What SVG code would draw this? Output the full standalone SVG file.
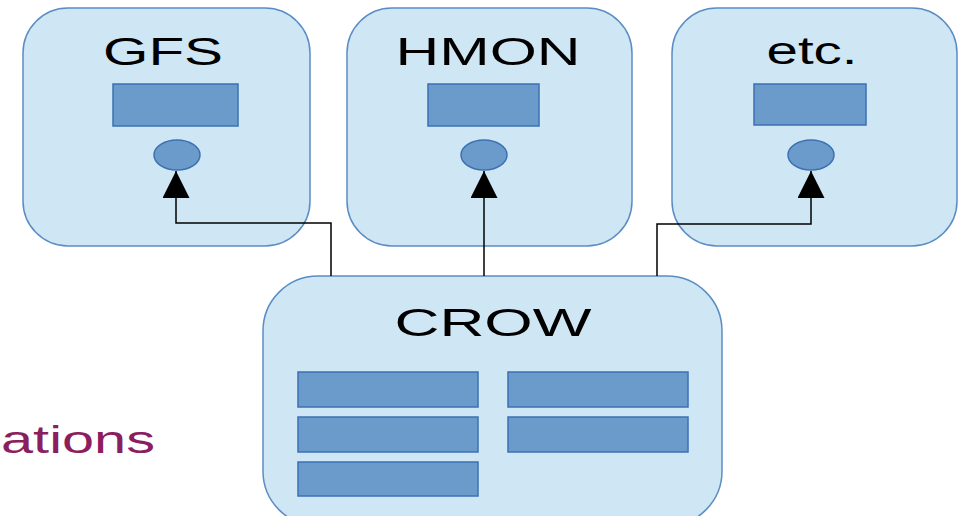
<svg xmlns="http://www.w3.org/2000/svg" width="969" height="516" viewBox="0 0 969 516">
<style>
.box{fill:#cfe6f4;stroke:#5b8dc4;stroke-width:1.5}
.inner{fill:#6b9bcb;stroke:#3c70b2;stroke-width:1.5}
.lbl{font-family:"Liberation Sans",Arial,sans-serif;font-size:39px;fill:#000;text-anchor:middle}
.conn{fill:none;stroke:#000;stroke-width:1.5}
</style>
<defs>
<marker id="arr" markerUnits="userSpaceOnUse" markerWidth="28" markerHeight="28" viewBox="0 0 28 28" refX="27" refY="13.5" orient="auto">
<path d="M0,0 L27,13.5 L0,27 Z" fill="#000"/>
</marker>
</defs>
<rect width="969" height="516" fill="#fff"/>
<text x="1" y="453" font-family="'Liberation Sans',Arial,sans-serif" font-size="38" fill="#8c1d5f" textLength="154" lengthAdjust="spacingAndGlyphs">ations</text>
<g id="gfs">
<rect class="box" x="23" y="8" width="287" height="238" rx="45"/>
<text class="lbl" x="163" y="65" textLength="120" lengthAdjust="spacingAndGlyphs">GFS</text>
<rect class="inner" x="113" y="84" width="125" height="42"/>
<ellipse class="inner" cx="177" cy="155" rx="23" ry="15"/>
</g>
<g id="hmon">
<rect class="box" x="347" y="8" width="285" height="238" rx="45"/>
<text class="lbl" x="488" y="65" textLength="185" lengthAdjust="spacingAndGlyphs">HMON</text>
<rect class="inner" x="428" y="84" width="111" height="42"/>
<ellipse class="inner" cx="484" cy="155" rx="23" ry="15"/>
</g>
<g id="etc">
<rect class="box" x="672" y="8" width="285" height="238" rx="45"/>
<text class="lbl" x="812" y="64" textLength="91" lengthAdjust="spacingAndGlyphs">etc.</text>
<rect class="inner" x="754" y="84" width="112" height="41"/>
<ellipse class="inner" cx="811" cy="155" rx="23" ry="15"/>
</g>
<g id="crow">
<rect class="box" x="263" y="276" width="459" height="250" rx="55"/>
<text class="lbl" x="493" y="336" font-size="40" textLength="197" lengthAdjust="spacingAndGlyphs">CROW</text>
<rect class="inner" x="298" y="372" width="180" height="35"/>
<rect class="inner" x="508" y="372" width="180" height="35"/>
<rect class="inner" x="298" y="417" width="180" height="35"/>
<rect class="inner" x="508" y="417" width="180" height="35"/>
<rect class="inner" x="298" y="462" width="180" height="34"/>
</g>
<g id="connectors">
<path class="conn" d="M331,276 V223 H176 V171" marker-end="url(#arr)"/>
<path class="conn" d="M484,276 V171" marker-end="url(#arr)"/>
<path class="conn" d="M657,276 V224 H811 V171" marker-end="url(#arr)"/>
</g>
</svg>
